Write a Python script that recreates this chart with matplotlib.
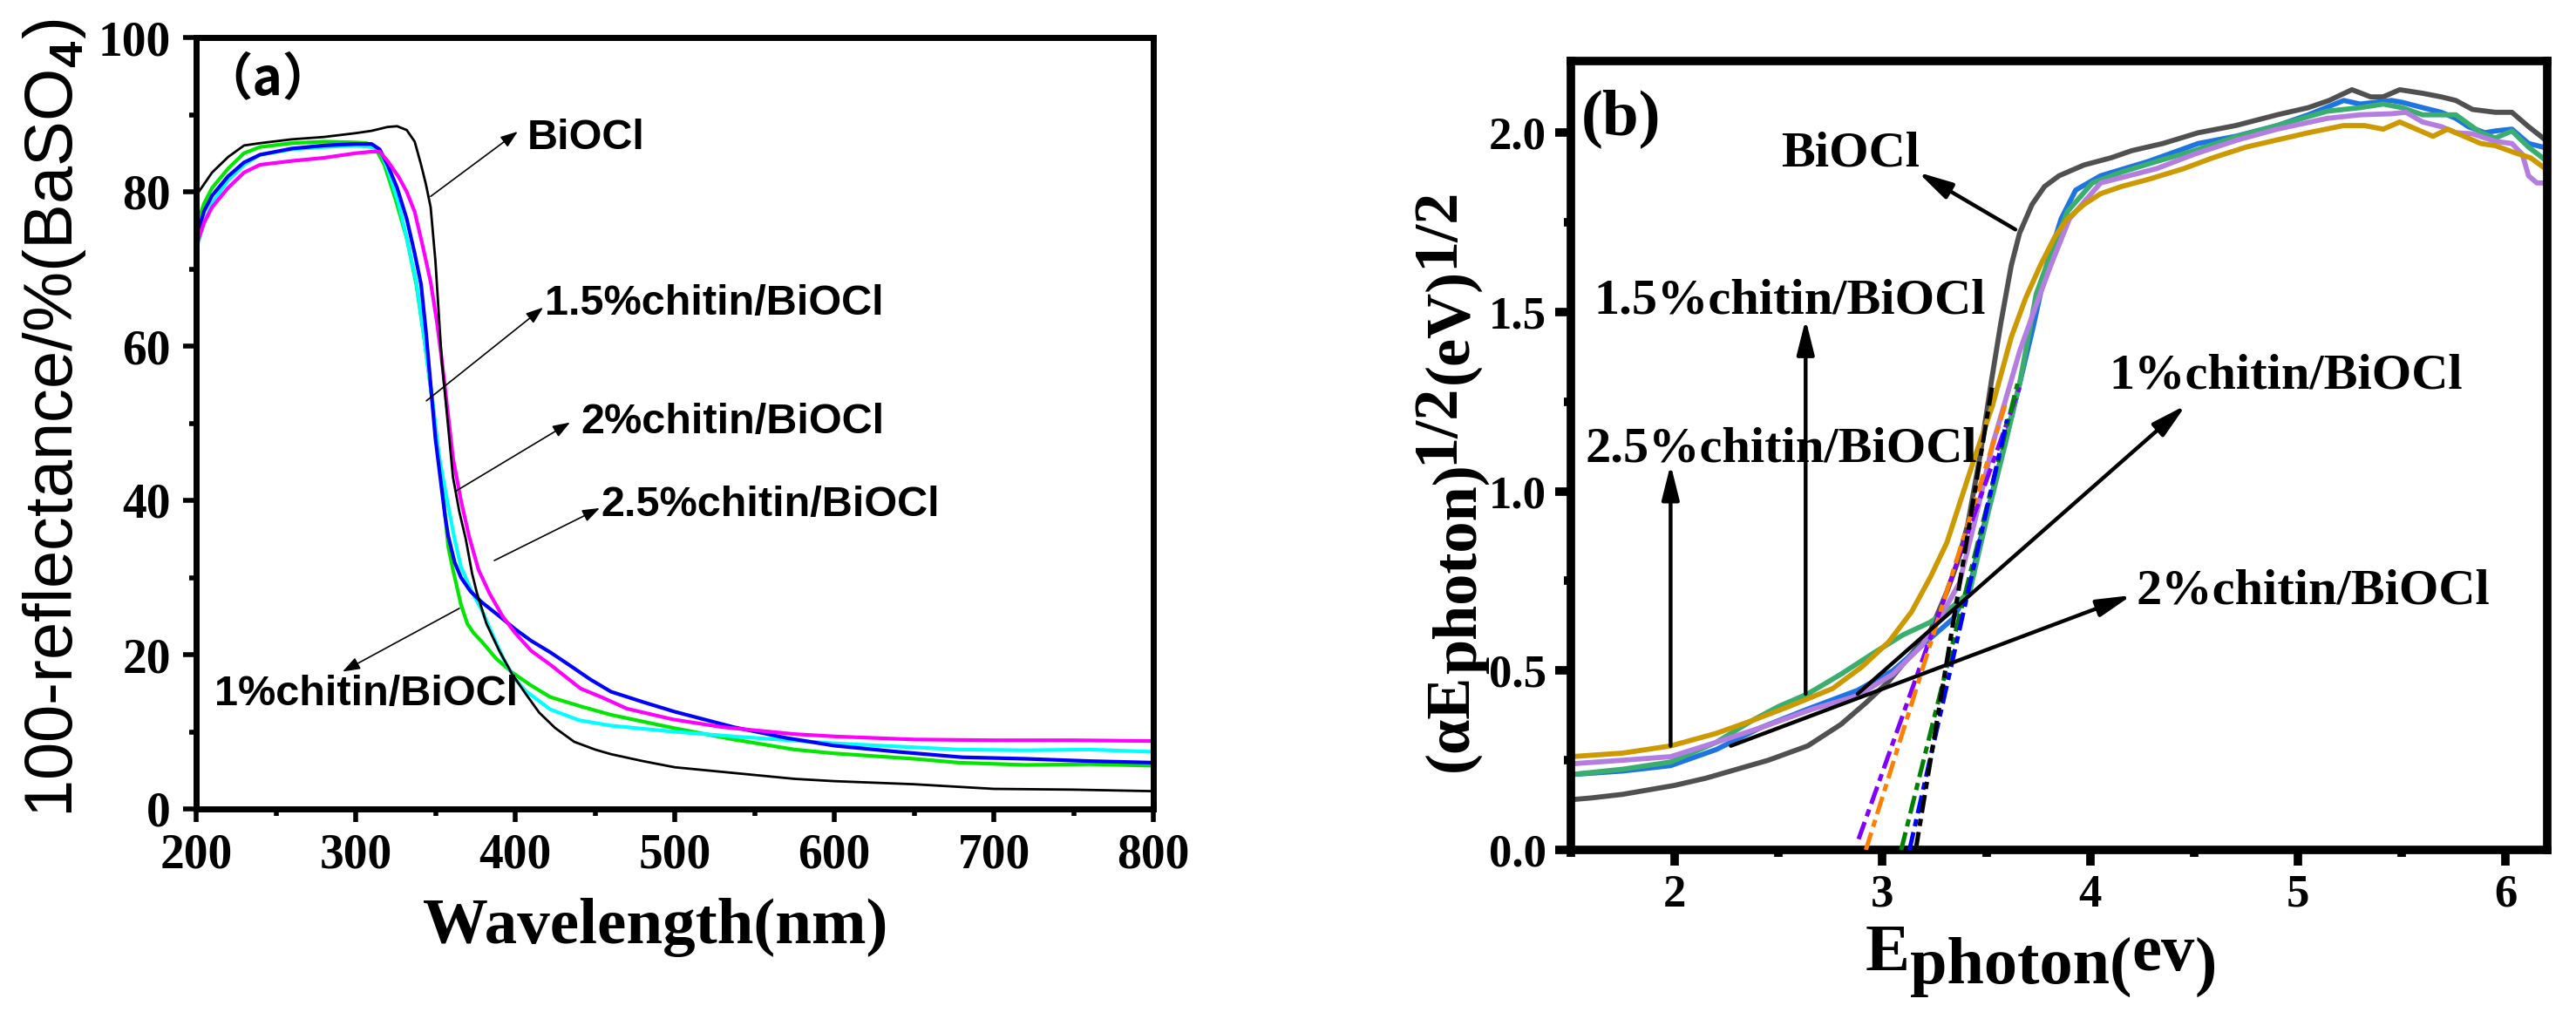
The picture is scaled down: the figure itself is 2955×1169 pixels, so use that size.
import matplotlib
matplotlib.use("Agg")
import matplotlib.pyplot as plt
from matplotlib.ticker import MultipleLocator

# ---------------- panel (a): UV-vis reflectance ----------------
wl_biocl = [200, 205, 210, 220, 230, 240, 260, 280, 300, 310, 320, 326, 332, 337, 341, 344, 347, 350,
            354, 358, 361, 365, 369, 373, 376, 382, 390, 398, 407, 415, 425, 437, 450, 460, 480, 500,
            530, 575, 600, 650, 700, 750, 800]
r_biocl = [79.5, 81, 82.5, 84.5, 86, 86.3, 86.8, 87.1, 87.6, 87.9, 88.4, 88.5, 88, 86.5, 83.5, 81, 78, 71,
           58, 49.5, 43, 38.5, 35, 30.5, 28, 24, 20.5, 17.5, 14.8, 12.5, 10.5, 8.7, 7.7, 7.1, 6.2, 5.4,
           4.8, 3.9, 3.6, 3.2, 2.6, 2.5, 2.3]

wl_blue = [200, 205, 210, 220, 230, 240, 260, 280, 300, 310, 315, 320, 326, 332, 337, 341, 344, 347, 350,
           353, 356, 358, 362, 366, 372, 379, 390, 400, 410, 422, 435, 447, 460, 481, 500, 537, 570, 600,
           640, 680, 720, 760, 800]
r_blue = [74, 77.5, 79.5, 82, 83.8, 84.8, 85.6, 86, 86.2, 86.2, 85.5, 83.5, 80.5, 76.5, 72, 68, 62, 55, 48,
          43, 38, 35.4, 32, 30, 28.2, 26.8, 25, 23.3, 21.8, 20.3, 18.5, 16.8, 15.2, 13.8, 12.6, 10.6, 9.2, 8.2,
          7.4, 6.7, 6.5, 6.2, 6.0]

wl_magenta = [200, 205, 210, 220, 230, 240, 260, 280, 300, 310, 315, 320, 327, 332, 337, 342, 347, 351,
              354, 358, 361, 366, 371, 377, 384, 392, 400, 410, 422, 441, 454, 470, 499, 530, 575, 600,
              650, 700, 750, 800]
r_magenta = [73, 76, 78, 80.5, 82.5, 83.5, 84, 84.4, 85, 85.2, 85.2, 84, 81.9, 80, 77.4, 73, 68.3, 63,
             58.2, 51, 45.5, 40, 35.4, 31, 27.9, 25, 22.8, 20.5, 18.7, 15.6, 14.5, 13.0, 11.6, 10.6, 9.7,
             9.4, 9.0, 8.9, 8.9, 8.8]

wl_cyan = [200, 205, 210, 220, 230, 240, 260, 280, 300, 310, 315, 320, 327, 332, 338, 343, 348, 352, 357,
           362, 366, 372, 379, 386, 393, 400, 407, 413, 422, 440, 460, 500, 537, 600, 678, 720, 760, 800]
r_cyan = [72.5, 76, 78.5, 81.5, 83.5, 84.8, 85.5, 85.8, 86, 85.8, 85.5, 83, 78.4, 74, 68.3, 61, 53.1, 46,
          40.4, 35, 31.4, 28.5, 25.8, 22.5, 19.3, 16.8, 15.2, 14.3, 12.9, 11.5, 10.8, 10, 9.4, 8.5, 7.7,
          7.6, 7.7, 7.4]

wl_green = [200, 205, 210, 220, 230, 240, 260, 280, 300, 307, 312, 318, 325, 332, 338, 343, 348, 352, 355,
            358, 361, 366, 370, 374, 379, 388, 398, 410, 422, 441, 460, 499, 537, 575, 600, 650, 678, 720,
            760, 800]
r_green = [75.5, 78.5, 80.5, 83, 85, 85.8, 86.3, 86.5, 86.4, 86.3, 85.8, 83.5, 79, 74, 68, 61, 53, 46,
           40.4, 34, 31, 26.5, 24, 22.8, 21.7, 19.5, 17.7, 16, 14.5, 13.3, 12.2, 10.5, 9, 7.7, 7.2, 6.5,
           6.0, 5.7, 5.8, 5.6]

series_a = [
    (wl_green, r_green, "#00e600", 3.0),
    (wl_cyan, r_cyan, "#00ffff", 3.0),
    (wl_blue, r_blue, "#0000ff", 3.0),
    (wl_magenta, r_magenta, "#ff00ff", 3.0),
    (wl_biocl, r_biocl, "black", 2.0),
]

labels_a = ["BiOCl", "1.5%chitin/BiOCl", "2%chitin/BiOCl", "2.5%chitin/BiOCl", "1%chitin/BiOCl"]
label_pos_a = [(407.6, 87.0), (418.6, 65.5), (441, 50.1), (453.6, 39.4), (211.5, 14.9)]
arrow_tail_a = [(347, 79.4), (344.3, 52.9), (362.8, 41.2), (386.9, 32.2), (365, 26.0)]
arrow_head_a = [(401.6, 87.8), (417.5, 65.0), (434.4, 50.1), (453, 39.0), (291.8, 17.8)]

# ---------------- panel (b): Tauc plot ----------------
e_biocl = [1.50, 1.60, 1.75, 1.90, 2.00, 2.15, 2.30, 2.45, 2.64, 2.80, 2.92, 3.03, 3.13, 3.23, 3.31, 3.36,
           3.41, 3.47, 3.525, 3.57, 3.62, 3.66, 3.72, 3.78, 3.85, 3.97, 4.10, 4.20, 4.35, 4.52, 4.70, 4.90,
           5.05, 5.15, 5.26, 5.35, 5.41, 5.49, 5.60, 5.69, 5.76, 5.84, 5.95, 6.03, 6.11, 6.20]
t_biocl = [0.14, 0.145, 0.155, 0.17, 0.18, 0.20, 0.225, 0.25, 0.29, 0.35, 0.41, 0.47, 0.54, 0.61, 0.72, 0.80,
           0.906, 1.10, 1.31, 1.47, 1.63, 1.72, 1.80, 1.85, 1.88, 1.91, 1.93, 1.95, 1.97, 2.00, 2.02, 2.05,
           2.07, 2.09, 2.12, 2.10, 2.10, 2.12, 2.11, 2.10, 2.09, 2.065, 2.057, 2.057, 2.017, 1.976]

e_blue = [1.50, 1.75, 1.98, 2.20, 2.41, 2.65, 2.88, 3.05, 3.19, 3.34, 3.42, 3.46, 3.53, 3.60, 3.66, 3.73,
          3.79, 3.86, 3.93, 4.05, 4.28, 4.52, 4.70, 4.90, 5.05, 5.22, 5.30, 5.45, 5.50, 5.60, 5.69, 5.76,
          5.82, 5.90, 5.95, 6.03, 6.11, 6.20]
t_blue = [0.21, 0.22, 0.235, 0.28, 0.34, 0.395, 0.445, 0.50, 0.57, 0.645, 0.73, 0.84, 1.0, 1.16, 1.30, 1.47,
          1.63, 1.76, 1.84, 1.88, 1.92, 1.97, 1.99, 2.02, 2.05, 2.09, 2.08, 2.09, 2.085, 2.07, 2.057, 2.04,
          2.017, 2.0, 2.005, 2.01, 1.97, 1.957]

e_green = [1.50, 1.75, 1.98, 2.20, 2.37, 2.50, 2.64, 2.80, 2.96, 3.10, 3.23, 3.33, 3.42, 3.50, 3.59, 3.66,
           3.74, 3.79, 3.89, 4.01, 4.15, 4.32, 4.50, 4.71, 4.90, 5.14, 5.30, 5.41, 5.50, 5.60, 5.69, 5.76,
           5.82, 5.88, 5.95, 6.03, 6.11, 6.20]
t_green = [0.21, 0.225, 0.245, 0.30, 0.36, 0.40, 0.435, 0.49, 0.55, 0.60, 0.635, 0.675, 0.72, 0.92, 1.13,
           1.30, 1.55, 1.63, 1.78, 1.86, 1.89, 1.92, 1.95, 1.99, 2.02, 2.06, 2.07, 2.08, 2.07, 2.05, 2.05,
           2.05, 2.025, 2.0, 1.985, 2.005, 1.96, 1.92]

e_lav = [1.50, 1.75, 1.98, 2.20, 2.41, 2.65, 2.88, 3.05, 3.19, 3.28, 3.37, 3.45, 3.53, 3.60, 3.66, 3.74,
         3.81, 3.90, 4.05, 4.32, 4.50, 4.71, 4.90, 5.14, 5.30, 5.45, 5.52, 5.60, 5.69, 5.76, 5.84, 5.95,
         6.03, 6.08, 6.11, 6.15, 6.20]
t_lav = [0.24, 0.25, 0.26, 0.30, 0.34, 0.39, 0.43, 0.49, 0.57, 0.65, 0.744, 0.93, 1.13, 1.27, 1.39, 1.52,
         1.63, 1.76, 1.86, 1.90, 1.94, 1.98, 2.01, 2.04, 2.05, 2.053, 2.057, 2.03, 2.017, 2.00, 1.997, 1.976,
         1.97, 1.94, 1.88, 1.86, 1.86]

e_gold = [1.50, 1.75, 1.98, 2.20, 2.37, 2.55, 2.76, 2.90, 3.03, 3.14, 3.23, 3.31, 3.43, 3.53, 3.62, 3.69,
          3.76, 3.83, 3.89, 3.97, 4.05, 4.15, 4.28, 4.45, 4.59, 4.75, 4.90, 5.05, 5.22, 5.32, 5.41, 5.49,
          5.57, 5.65, 5.72, 5.80, 5.88, 5.95, 6.04, 6.12, 6.20]
t_gold = [0.26, 0.27, 0.29, 0.325, 0.36, 0.40, 0.45, 0.51, 0.58, 0.664, 0.76, 0.857, 1.07, 1.24, 1.43, 1.54,
          1.63, 1.71, 1.76, 1.80, 1.83, 1.85, 1.87, 1.90, 1.93, 1.96, 1.98, 2.00, 2.02, 2.02, 2.01, 2.03,
          2.01, 1.99, 2.01, 1.99, 1.97, 1.964, 1.945, 1.93, 1.896]

series_b = [
    (e_biocl, t_biocl, "#505050"),
    (e_blue, t_blue, "#1e74e0"),
    (e_green, t_green, "#3aae6e"),
    (e_lav, t_lav, "#b47ee0"),
    (e_gold, t_gold, "#cc9900"),
]

# band-gap tangent lines (x ends, y ends)
tangents = [
    ([2.885, 3.66], [0.03, 1.29], "#8000ff"),
    ([2.92, 3.59], [0.0, 1.24], "#ff8000"),
    ([3.09, 3.65], [0.0, 1.30], "#008000"),
    ([3.13, 3.60], [0.0, 1.20], "#0000ff"),
    ([3.16, 3.53], [0.0, 1.30], "black"),
]

labels_b = ["BiOCl", "1.5%chitin/BiOCl", "2.5%chitin/BiOCl", "1%chitin/BiOCl", "2%chitin/BiOCl"]
label_pos_b = [(2.51, 1.94), (1.61, 1.53), (1.57, 1.116), (4.09, 1.32), (4.22, 0.72)]
arrow_tail_b = [(3.64, 1.73), (2.63, 0.435), (1.98, 0.29), (2.88, 0.435), (2.27, 0.29)]
arrow_head_b = [(3.17, 1.89), (2.63, 1.48), (1.98, 1.075), (4.46, 1.24), (4.20, 0.71)]

# ---------------- figure ----------------
W, H = 2955, 1169
plt.rcParams["font.family"] = ["Liberation Serif"]
plt.rcParams["font.weight"] = "bold"
plt.rcParams["mathtext.fontset"] = "custom"
plt.rcParams["mathtext.rm"] = "Liberation Sans"
plt.rcParams["lines.scale_dashes"] = False

fig = plt.figure(figsize=(W / 100, H / 100), dpi=100)
ax1 = fig.add_axes([225 / W, 1 - 928 / H, 1098 / W, 885 / H])
ax2 = fig.add_axes([1802 / W, 1 - 975 / H, 1120 / W, 905 / H])


def add_arrow(ax, tail, head, lw, hl, hw, ms):
    ax.annotate("", xy=head, xytext=tail,
                arrowprops=dict(arrowstyle=f"-|>,head_length={hl},head_width={hw}",
                                lw=lw, color="black", shrinkA=0, shrinkB=0, mutation_scale=ms))


def rich_label(pieces, x0, y0, size, vertical=False):
    # text pieces drawn one after another; shift = baseline raise in px
    r = fig.canvas.get_renderer()
    pos = y0 if vertical else x0
    for s, shift in pieces:
        if vertical:
            t = fig.text((x0 - shift) / W, pos / H, s, rotation=90, rotation_mode="anchor",
                         ha="left", va="baseline", fontsize=size, fontweight="bold")
            pos += t.get_window_extent(r).height
        else:
            t = fig.text(pos / W, (y0 + shift) / H, s, ha="left", va="baseline",
                         fontsize=size, fontweight="bold")
            pos += t.get_window_extent(r).width


# panel (a)
for x, y, c, lw in series_a:
    ax1.plot(x, y, color=c, lw=lw)
ax1.set_xlim(200, 800)
ax1.set_ylim(0, 100)
ax1.xaxis.set_major_locator(MultipleLocator(100))
ax1.xaxis.set_minor_locator(MultipleLocator(50))
ax1.yaxis.set_major_locator(MultipleLocator(20))
ax1.yaxis.set_minor_locator(MultipleLocator(10))
ax1.tick_params(which="both", direction="out", top=False, right=False, width=4)
ax1.tick_params(which="major", length=11, labelsize=40)
ax1.tick_params(axis="x", which="major", pad=9)
ax1.tick_params(axis="y", which="major", pad=10)
ax1.tick_params(which="minor", length=6)
for sp in ax1.spines.values():
    sp.set_linewidth(5)

for lab, pos, tail, head in zip(labels_a, label_pos_a, arrow_tail_a, arrow_head_a):
    ax1.text(pos[0], pos[1], lab, ha="left", va="center", fontsize=35,
             family="Liberation Sans", fontweight="bold")
    add_arrow(ax1, tail, head, 1.2, 0.5, 0.18, 24)

fig.text(307 / W, 1 - 91 / H, "（a）", ha="center", va="center", fontsize=42,
         family=["Noto Sans CJK SC", "DejaVu Sans"], fontweight="bold")
fig.text(63 / W, 1 - 480 / H, "100-reflectance/%(BaSO$_4$)", rotation=90, ha="center", va="center",
         fontsize=56, family="Liberation Sans", fontweight="normal")
fig.text(752 / W, 87 / H, "Wavelength(nm)", ha="center", va="baseline", fontsize=54, fontweight="bold")

# panel (b)
for x, y, c in series_b:
    ax2.plot(x, y, color=c, lw=4.2, solid_capstyle="butt")
for x, y, c in tangents:
    ax2.plot(x, y, color=c, lw=3.6, linestyle=(0, (15, 5, 6, 5)), zorder=3)
ax2.set_xlim(1.5, 6.2)
ax2.set_ylim(0, 2.2)
ax2.xaxis.set_major_locator(MultipleLocator(1))
ax2.xaxis.set_minor_locator(MultipleLocator(0.5))
ax2.yaxis.set_major_locator(MultipleLocator(0.5))
ax2.yaxis.set_minor_locator(MultipleLocator(0.25))
ax2.tick_params(which="both", direction="out", top=False, right=False, width=7)
ax2.tick_params(which="major", length=13, labelsize=38, pad=7)
ax2.tick_params(which="minor", length=6)
for sp in ax2.spines.values():
    sp.set_linewidth(7)

for lab, pos, tail, head in zip(labels_b, label_pos_b, arrow_tail_b, arrow_head_b):
    ax2.text(pos[0], pos[1], lab, ha="left", va="center", fontsize=42, fontweight="bold")
    add_arrow(ax2, tail, head, 3.2, 1.2, 0.3, 20)
ax2.text(1.55, 2.04, "(b)", ha="left", va="center", fontsize=54, fontweight="bold")

rich_label([("(αE", 0), ("photon)", -10), ("1/2", 17), ("(eV)", 0), ("1/2", 17)],
           1683, 284, 52, vertical=True)
rich_label([("E", 0), ("photon(", -15), ("ev", 0), (")", -15)], 2140, 56, 55)

fig.savefig("out.png", dpi=100)
